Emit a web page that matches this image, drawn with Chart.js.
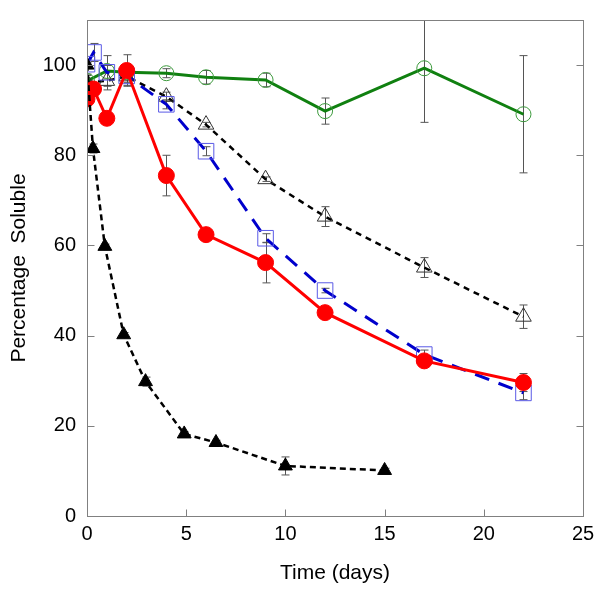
<!DOCTYPE html>
<html lang="en">
<head>
<meta charset="UTF-8">
<title>Percentage Soluble</title>
<script src="https://cdn.jsdelivr.net/npm/chart.js@4"></script>
<style>
  html, body { margin: 0; padding: 0; background: #fff; }
  #wrap { width: 602px; height: 590px; position: relative; }
</style>
</head>
<body>
<div id="wrap"><canvas id="chart"></canvas></div>
<script>
// --- data ---
const xTicks = [0, 5, 10, 15, 20, 25];
const yTicks = [0, 20, 40, 60, 80, 100];

const greenX = [0, 1, 2, 4, 6, 9, 12, 17, 22];
const greenY = [96.5, 98.7, 98.4, 98.2, 97.3, 96.7, 89.8, 99.3, 89.1];
const greenErr = [1.5, 3.4, 1.5, 1, 1.5, 1.5, 2.9, 12, 13];

const openTriX = [0, 1, 2, 4, 6, 9, 12, 17, 22];
const openTriY = [96.2, 96.5, 97.5, 93, 86.8, 74.7, 66.4, 55.1, 44.2];
const openTriErr = [1.5, 2, 2, 1, 0.5, 0.5, 2.2, 2.2, 2.6];

const blueX = [0, 0.33, 1, 2, 4, 6, 9, 12, 17, 22];
const blueY = [100.2, 102.8, 98.4, 97.6, 91.3, 80.9, 61.6, 50, 35.8, 27.3];
const blueErr = [1, 2, 1.5, 1.5, 1, 1, 1, 0.5, 1, 1.5];

const redX = [0, 0.33, 1, 2, 4, 6, 9, 12, 17, 22];
const redY = [92.5, 94.7, 88.2, 98.8, 75.5, 62.4, 56.2, 45.1, 34.4, 29.6];
const redErr = [1, 1, 1, 3.5, 4.5, 1, 4.5, 1, 1, 2];

const fillTriX = [0, 0.3, 0.9, 1.85, 2.95, 4.9, 6.5, 10, 15];
const fillTriY = [100, 81.5, 59.8, 40.2, 29.8, 18.2, 16.3, 11.1, 10.1];
const fillTriErr = [0.5, 1, 0.5, 0.5, 1, 0.5, 0.5, 2, 0.5];

function pts(xs, ys, errs) {
    return xs.map((x, i) => ({ x: x, y: ys[i], err: errs[i] }));
}

// error bars, drawn under the markers
const errorBars = {
    id: 'errorBars',
    beforeDatasetsDraw(chart) {
        const ctx = chart.ctx;
        const xs = chart.scales.x, ys = chart.scales.y;
        const area = chart.chartArea;
        ctx.save();
        ctx.beginPath();
        ctx.rect(area.left, area.top, area.right - area.left, area.bottom - area.top);
        ctx.clip();
        ctx.strokeStyle = '#555';
        ctx.lineWidth = 1;
        chart.data.datasets.forEach(ds => {
            ds.data.forEach(p => {
                if (!p.err) return;
                const px = Math.round(xs.getPixelForValue(p.x)) + 0.5;
                const top = ys.getPixelForValue(p.y + p.err);
                const bot = ys.getPixelForValue(p.y - p.err);
                ctx.beginPath();
                ctx.moveTo(px, top); ctx.lineTo(px, bot);
                ctx.moveTo(px - 4, top); ctx.lineTo(px + 4, top);
                ctx.moveTo(px - 4, bot); ctx.lineTo(px + 4, bot);
                ctx.stroke();
            });
        });
        ctx.restore();
    }
};

// frame and inward ticks
const frame = {
    id: 'frame',
    afterDraw(chart) {
        const ctx = chart.ctx;
        const a = chart.chartArea;
        const xs = chart.scales.x, ys = chart.scales.y;
        const L = Math.round(a.left) + 0.5, R = Math.round(a.right) + 0.5;
        const T = Math.round(a.top) + 0.5, B = Math.round(a.bottom) + 0.5;
        ctx.save();
        ctx.strokeStyle = '#808080';
        ctx.lineWidth = 1;
        ctx.strokeRect(L, T, R - L, B - T);
        ctx.beginPath();
        xTicks.forEach(v => {
            const px = Math.round(xs.getPixelForValue(v)) + 0.5;
            ctx.moveTo(px, B); ctx.lineTo(px, B - 7);
        });
        yTicks.forEach(v => {
            const py = Math.round(ys.getPixelForValue(v)) + 0.5;
            ctx.moveTo(L, py); ctx.lineTo(L + 7, py);
            ctx.moveTo(R, py); ctx.lineTo(R - 7, py);
        });
        ctx.stroke();
        ctx.restore();
    }
};

const font = 'Liberation Sans, Arial, sans-serif';

new Chart(document.getElementById('chart'), {
    type: 'line',
    data: {
        datasets: [{
            label: 'filled triangles',
            data: pts(fillTriX, fillTriY, fillTriErr),
            borderColor: '#000', borderWidth: 2.5, borderDash: [6, 4],
            pointStyle: 'triangle', pointRadius: 8,
            pointBackgroundColor: '#000', pointBorderColor: '#000', pointBorderWidth: 1,
            order: 1
        }, {
            label: 'red circles',
            data: pts(redX, redY, redErr),
            borderColor: '#ff0000', borderWidth: 3,
            pointStyle: 'circle', pointRadius: 8,
            pointBackgroundColor: '#ff0000', pointBorderColor: '#ff0000', pointBorderWidth: 1,
            order: 2
        }, {
            label: 'blue squares',
            data: pts(blueX, blueY, blueErr),
            borderColor: '#0000cc', borderWidth: 3, borderDash: [15, 10],
            pointStyle: 'rect', pointRadius: 11,
            pointBackgroundColor: 'rgba(0,0,0,0)', pointBorderColor: '#5a5ae6', pointBorderWidth: 1,
            order: 3
        }, {
            label: 'open triangles',
            data: pts(openTriX, openTriY, openTriErr),
            borderColor: '#000', borderWidth: 2.5, borderDash: [6, 5],
            pointStyle: 'triangle', pointRadius: 9,
            pointBackgroundColor: 'rgba(0,0,0,0)', pointBorderColor: '#333', pointBorderWidth: 1,
            order: 4
        }, {
            label: 'green circles',
            data: pts(greenX, greenY, greenErr),
            borderColor: '#108010', borderWidth: 3,
            pointStyle: 'circle', pointRadius: 7.5,
            pointBackgroundColor: 'rgba(0,0,0,0)', pointBorderColor: '#3c9a3c', pointBorderWidth: 1,
            order: 5
        }]
    },
    options: {
        responsive: true,
        maintainAspectRatio: false,
        animation: false,
        layout: { padding: { top: 20, right: 19, bottom: 0, left: 0 } },
        plugins: { legend: { display: false }, tooltip: { enabled: false } },
        elements: { line: { tension: 0 } },
        scales: {
            x: {
                type: 'linear', min: 0, max: 25,
                afterBuildTicks: s => { s.ticks = xTicks.map(v => ({ value: v })); },
                afterFit: s => { s.height = 74; s.paddingLeft = 0; s.paddingRight = 0; },
                grid: { display: false, drawTicks: false },
                border: { display: false },
                ticks: { color: '#000', padding: 6, font: { family: font, size: 20 } },
                title: {
                    display: true, text: 'Time (days)', color: '#000',
                    padding: { top: 0, bottom: 4 },
                    font: { family: font, size: 21 }
                }
            },
            y: {
                type: 'linear', min: 0, max: 110,
                afterBuildTicks: s => { s.ticks = yTicks.map(v => ({ value: v })); },
                afterFit: s => { s.width = 87; s.paddingTop = 0; s.paddingBottom = 0; },
                grid: { display: false, drawTicks: false },
                border: { display: false },
                ticks: { color: '#000', padding: 11, font: { family: font, size: 20 } },
                title: {
                    display: true, text: 'Percentage  Soluble', color: '#000',
                    padding: { top: 7, bottom: 0 },
                    font: { family: font, size: 21 }
                }
            }
        }
    },
    plugins: [errorBars, frame]
});
</script>
</body>
</html>
